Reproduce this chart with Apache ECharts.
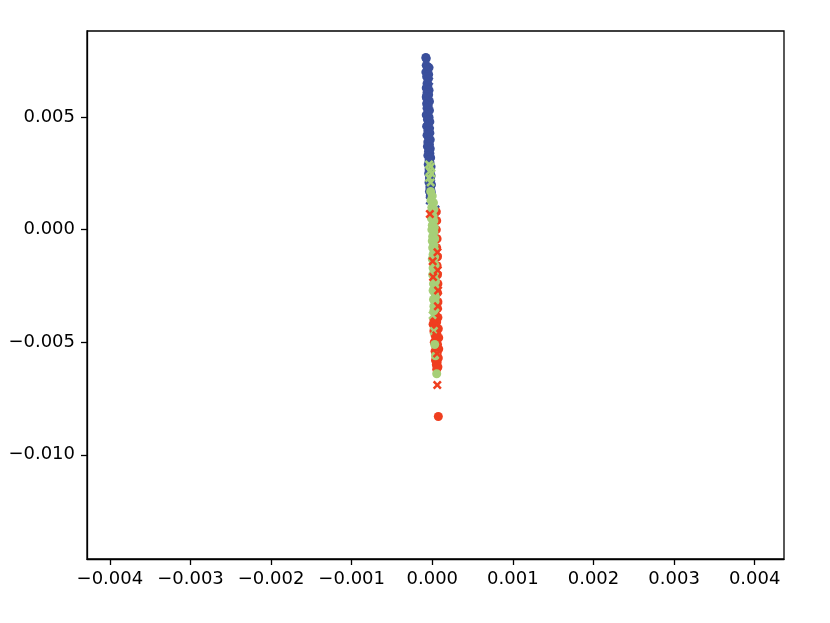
<!DOCTYPE html>
<html>
<head>
<meta charset="utf-8">
<script src="https://cdn.jsdelivr.net/npm/echarts@6/dist/echarts.min.js"></script>
<style>html,body{margin:0;padding:0;background:#fff}#c{width:830px;height:623px}</style>
</head>
<body>
<div id="c"></div>
<script>
// Tick labels
const xTicks = [-0.004, -0.003, -0.002, -0.001, 0, 0.001, 0.002, 0.003, 0.004];
const yTicks = [-0.010, -0.005, 0, 0.005];

// Class A (blue)
const blueCircles = [
  [-0.000080, 0.00765], [-0.000075, 0.0076],
  [-0.000075, 0.0073], [-0.000040, 0.0072], [-0.000060, 0.0071], [-0.000080, 0.0070],
  [-0.000045, 0.0069], [-0.000070, 0.0068], [-0.000050, 0.0067], [-0.000065, 0.0065],
  [-0.000055, 0.0064], [-0.000075, 0.0063], [-0.000040, 0.0062], [-0.000065, 0.0061],
  [-0.000045, 0.0060], [-0.000075, 0.0059], [-0.000050, 0.0058], [-0.000035, 0.0057],
  [-0.000070, 0.0056], [-0.000050, 0.0055], [-0.000065, 0.0054], [-0.000035, 0.0053],
  [-0.000055, 0.0052], [-0.000075, 0.0051], [-0.000040, 0.0050], [-0.000060, 0.0049],
  [-0.000030, 0.0048], [-0.000050, 0.0047], [-0.000070, 0.0046], [-0.000035, 0.0045],
  [-0.000055, 0.0044], [-0.000030, 0.0043], [-0.000065, 0.0042], [-0.000045, 0.0041],
  [-0.000025, 0.0040], [-0.000055, 0.0039], [-0.000035, 0.0038], [-0.000060, 0.0037],
  [-0.000025, 0.0036], [-0.000045, 0.0035], [-0.000030, 0.0034], [-0.000055, 0.0033],
  [-0.000020, 0.0032], [-0.000040, 0.0031], [-0.000030, 0.0030], [-0.000050, 0.0029],
  [-0.000015, 0.0028], [-0.000040, 0.0027], [-0.000025, 0.0026], [-0.000045, 0.0025],
  [-0.000015, 0.0024], [-0.000035, 0.0023], [-0.000020, 0.0022], [-0.000040, 0.0021],
  [-0.000010, 0.0020], [-0.000030, 0.0019], [-0.000020, 0.0018], [-0.000035, 0.0017],
  [-0.000010, 0.0016], [-0.000025, 0.0015]
];
const blueCrosses = [
  [-0.000060, 0.0072], [-0.000040, 0.0066], [-0.000070, 0.0059], [-0.000050, 0.0052],
  [-0.000030, 0.0044], [-0.000050, 0.0036], [-0.000030, 0.0029], [-0.000020, 0.0022],
  [-0.000010, 0.0016], [-0.000030, 0.0013], [0.000000, 0.0011], [0.000040, 0.0009],
  [0.000045, 0.0006]
];

// Class B (red)
const redCircles = [
  [0.000050, 0.0008], [0.000055, 0.0004], [0.000050, 0.0000], [0.000060, -0.0004],
  [0.000055, -0.0008], [0.000065, -0.0012], [0.000060, -0.0016], [0.000065, -0.0020],
  [0.000070, -0.0024], [0.000065, -0.0028], [0.000070, -0.0032], [0.000065, -0.0035],
  [0.000040, -0.0038], [0.000070, -0.0039], [0.000020, -0.0040], [0.000055, -0.0041],
  [0.000010, -0.0042], [0.000035, -0.0043], [0.000075, -0.0044], [0.000020, -0.0045],
  [0.000055, -0.0046], [0.000035, -0.0047], [0.000080, -0.0048], [0.000045, -0.0049],
  [0.000025, -0.0050], [0.000065, -0.0051], [0.000045, -0.0052], [0.000080, -0.0053],
  [0.000035, -0.0054], [0.000060, -0.0055], [0.000045, -0.0056], [0.000075, -0.0057],
  [0.000040, -0.0058], [0.000060, -0.0059], [0.000050, -0.0060], [0.000070, -0.0061],
  [0.000055, -0.0062], [0.000075, -0.0083]
];
const redCrosses = [
  [-0.000030, 0.0007], [0.000005, -0.0014], [0.000010, -0.0021], [0.000065, -0.0010],
  [0.000068, -0.0018], [0.000072, -0.0027], [0.000070, -0.0034], [0.000030, -0.0041],
  [0.000050, -0.0047], [0.000060, -0.0055], [0.000062, -0.0069]
];

// Class C (green)
const greenCircles = [
  [-0.000020, 0.0017], [0.000000, 0.0015], [-0.000015, 0.0013], [0.000015, 0.0012],
  [-0.000005, 0.0010], [0.000020, 0.0009], [-0.000010, 0.0008], [0.000010, 0.0006],
  [-0.000010, 0.0005], [0.000020, 0.0004], [0.000000, 0.0002], [0.000025, 0.0001],
  [-0.000005, 0.0000], [0.000020, -0.0001], [0.000005, -0.0003], [0.000030, -0.0004],
  [0.000000, -0.0005], [0.000020, -0.0007], [0.000005, -0.0008], [0.000030, -0.0009],
  [0.000010, -0.0011], [0.000030, -0.0012], [0.000000, -0.0013], [0.000020, -0.0015],
  [0.000035, -0.0016], [0.000010, -0.0017], [0.000030, -0.0019], [0.000005, -0.0020],
  [0.000025, -0.0022], [0.000040, -0.0023], [0.000015, -0.0024], [0.000035, -0.0026],
  [0.000010, -0.0027], [0.000030, -0.0028], [0.000040, -0.0030], [0.000015, -0.0031],
  [0.000035, -0.0032], [0.000020, -0.0034], [0.000040, -0.0035], [0.000020, -0.0036],
  [0.000030, -0.0051], [0.000040, -0.0056], [0.000055, -0.0064]
];
const greenCrosses = [
  [-0.000040, 0.0029], [-0.000020, 0.0028], [-0.000030, 0.0026], [-0.000010, 0.0025],
  [-0.000040, 0.0023], [-0.000020, 0.0021], [0.000005, -0.0038], [0.000020, -0.0045]
];

const BLUE = '#3a4f9c', RED = '#ef3e1f', GREEN = '#a6cf78';
const CROSS = 'path://M2,0 L5,3 L8,0 L10,2 L7,5 L10,8 L8,10 L5,7 L2,10 L0,8 L3,5 L0,2 Z';

function sc(data, color, symbol, size) {
  return { type: 'scatter', data: data, symbol: symbol, symbolSize: size,
    itemStyle: { color: color, opacity: 1 }, silent: true, animation: false };
}

const fmt = v => {
  let s = v.toFixed(3);
  if (Math.abs(v) < 1e-12) s = '0.000';
  return s.replace('-', '\u2212');
};

const chart = echarts.init(document.getElementById('c'), null, { renderer: 'canvas' });
chart.setOption({
  animation: false,
  backgroundColor: '#fff',
  grid: { left: 87, right: 46, top: 31, bottom: 64, show: true, borderColor: '#000', borderWidth: 1.3, backgroundColor: 'transparent' },
  xAxis: {
    type: 'value', min: -0.004284, max: 0.004364,
    axisLine: { show: true, onZero: false, lineStyle: { color: '#000', width: 1.3 } },
    axisTick: { show: true, length: 6, lineStyle: { color: '#000', width: 1.3 }, customValues: xTicks },
    axisLabel: { show: true, margin: 11, color: '#000', fontSize: 18, fontFamily: 'DejaVu Sans', customValues: xTicks, formatter: fmt },
    splitLine: { show: false }
  },
  yAxis: {
    type: 'value', min: -0.01463, max: 0.008827,
    axisLine: { show: true, onZero: false, lineStyle: { color: '#000', width: 1.3 } },
    axisTick: { show: true, length: 6, lineStyle: { color: '#000', width: 1.3 }, customValues: yTicks },
    axisLabel: { show: true, margin: 12, color: '#000', fontSize: 18, fontFamily: 'DejaVu Sans', customValues: yTicks, formatter: fmt },
    splitLine: { show: false }
  },
  series: [
    sc(blueCircles, BLUE, 'circle', 9),
    sc(blueCrosses, BLUE, CROSS, 9),
    sc(redCircles, RED, 'circle', 9),
    sc(greenCircles, GREEN, 'circle', 9),
    sc(greenCrosses, GREEN, CROSS, 9),
    sc(redCrosses, RED, CROSS, 9)
  ]
});
</script>
</body>
</html>
